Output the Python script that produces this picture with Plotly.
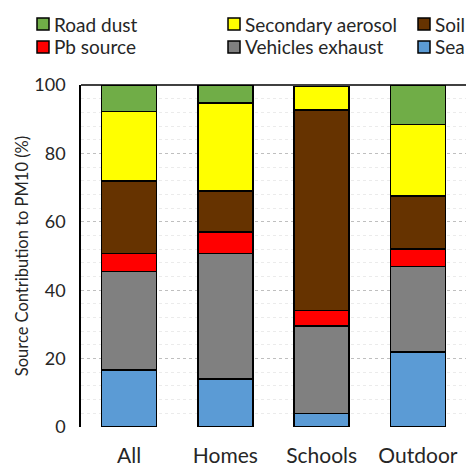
import plotly.graph_objects as go

categories = ["All", "Homes", "Schools", "Outdoor"]
sea = [16.7, 14.1, 3.9, 22.0]
vehicles = [28.7, 36.7, 25.6, 24.9]
pb = [5.4, 6.2, 4.5, 5.2]
soil = [21.1, 12.0, 58.7, 15.4]
secondary = [20.4, 25.8, 6.8, 21.0]
road_dust = [7.7, 5.2, 0.0, 11.5]

series_names = ["Sea", "Vehicles exhaust", "Pb source", "Soil", "Secondary aerosol", "Road dust"]
series_values = [sea, vehicles, pb, soil, secondary, road_dust]
series_colors = ["#5B9BD5", "#808080", "#FF0000", "#663300", "#FFFF00", "#70AD47"]
# legend layout (column, row) in the reference's legend grid
legend_grid = {"Road dust": (0, 0), "Secondary aerosol": (1, 0), "Soil": (2, 0),
               "Pb source": (0, 1), "Vehicles exhaust": (1, 1), "Sea": (2, 1)}

W, H = 467, 466
L, R, T, B = 81, 1, 85, 39
pw, ph = W - L - R, H - T - B

def px_x(px):
    return (px - L) / pw

def px_y(py):
    return (H - B - py) / ph

fig = go.Figure()
for name, vals, color in zip(series_names, series_values, series_colors):
    fig.add_trace(go.Bar(
        x=categories, y=vals, name=name, showlegend=False,
        marker=dict(color=color, line=dict(color="black", width=1.5)),
        width=0.57,
    ))

font = "Lato, Open Sans, sans-serif"
col_x = [37, 228, 418]
row_y = [24, 47]
shapes = [dict(type="line", xref="paper", yref="paper", x0=0, x1=1, y0=1, y1=1,
               line=dict(color="black", width=1.5))]
annotations = []
for name, color in zip(series_names, series_colors):
    c, r = legend_grid[name]
    x0, yc = col_x[c], row_y[r]
    shapes.append(dict(type="rect", xref="paper", yref="paper",
                       x0=px_x(x0), x1=px_x(x0 + 12), y0=px_y(yc + 6), y1=px_y(yc - 6),
                       fillcolor=color, line=dict(color="black", width=1.5)))
    annotations.append(dict(xref="paper", yref="paper", x=px_x(x0 + 15), y=px_y(yc),
                            xanchor="left", yanchor="middle", showarrow=False, text=name,
                            font=dict(family=font, size=19, color="#262626")))

fig.update_layout(
    width=W, height=H,
    margin=dict(l=L, r=R, t=T, b=B),
    barmode="stack",
    plot_bgcolor="white", paper_bgcolor="white",
    font=dict(family=font, color="#262626"),
    showlegend=False,
    xaxis=dict(showline=False, showgrid=False, tickfont=dict(size=21, color="#262626"),
               ticks="", ticklabelstandoff=14, automargin=False),
    yaxis=dict(range=[0, 100], tickvals=[0, 20, 40, 60, 80, 100],
               showline=True, linecolor="black", linewidth=1.5,
               showgrid=True, gridcolor="#BFBFBF", griddash="dot", gridwidth=1,
               minor=dict(dtick=4, showgrid=True, gridcolor="#EBEBEB", gridwidth=1),
               zeroline=False, automargin=False,
               ticklabelstandoff=10,
               tickfont=dict(size=18, color="#262626"),
               title=dict(text="Source Contribution to PM10 (%)", standoff=2,
                          font=dict(size=16.5, color="#262626"))),
    shapes=shapes,
    annotations=annotations,
)
fig.write_html("out.html", config={"displayModeBar": False},
               post_script="document.body.style.margin='0';")
